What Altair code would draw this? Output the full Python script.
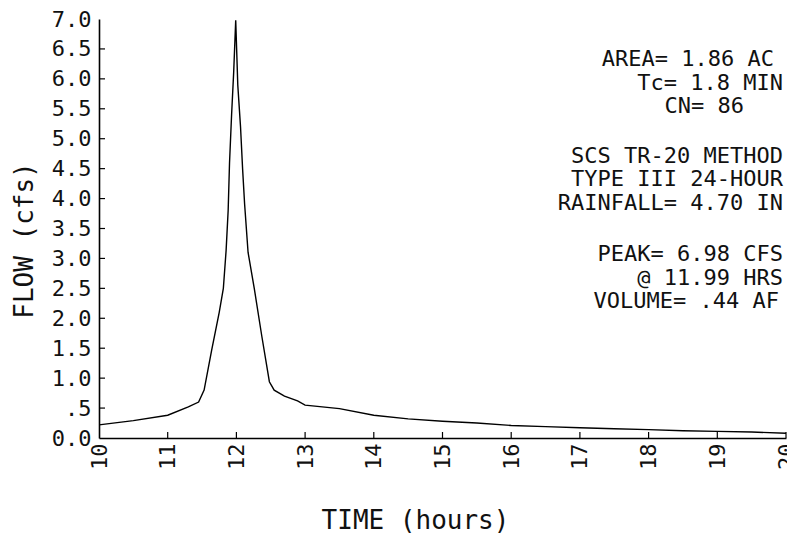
import altair as alt
import pandas as pd

time_hr = [10.0, 10.5, 11.0, 11.3, 11.45, 11.53, 11.64, 11.75, 11.81, 11.85,
           11.88, 11.90, 11.93, 11.96, 11.99, 12.02, 12.06, 12.09, 12.12, 12.17,
           12.26, 12.37, 12.48, 12.55, 12.7, 12.89, 13.0, 13.5, 14.0, 14.5,
           15.0, 15.5, 16.0, 16.5, 17.0, 17.5, 18.0, 18.5, 19.0, 19.5, 20.0]
flow_cfs = [0.22, 0.29, 0.38, 0.52, 0.60, 0.80, 1.47, 2.10, 2.50, 3.13,
            3.80, 4.60, 5.40, 6.10, 6.98, 5.90, 5.20, 4.50, 3.90, 3.10,
            2.50, 1.70, 0.94, 0.80, 0.70, 0.62, 0.55, 0.49, 0.38, 0.32,
            0.28, 0.25, 0.21, 0.19, 0.17, 0.155, 0.14, 0.12, 0.11, 0.10, 0.08]

y_tick_values = [0.0, 0.5, 1.0, 1.5, 2.0, 2.5, 3.0, 3.5, 4.0, 4.5, 5.0, 5.5, 6.0, 6.5, 7.0]
y_tick_labels = ["0.0", ".5", "1.0", "1.5", "2.0", "2.5", "3.0", "3.5", "4.0",
                 "4.5", "5.0", "5.5", "6.0", "6.5", "7.0"]
x_tick_values = [10, 11, 12, 13, 14, 15, 16, 17, 18, 19, 20]

annotation_lines = ["AREA= 1.86 AC", "Tc= 1.8 MIN", "CN= 86",
                    "SCS TR-20 METHOD", "TYPE III 24-HOUR", "RAINFALL= 4.70 IN",
                    "PEAK= 6.98 CFS", "@ 11.99 HRS", "VOLUME= .44 AF"]

x_title = "TIME (hours)"
y_title = "FLOW (cfs)"

# ---- layout (pixels, relative to plot area) ----
W, H = 687, 419
FONT = "DejaVu Sans Mono"
INK = "#111111"
ann_right = [675, 684, 645, 684, 684, 684, 684, 684, 680]
ann_cy = [40, 63.5, 87, 137, 160, 184, 235, 258.5, 281.5]

df = pd.DataFrame({"t": time_hr, "q": flow_cfs})
xs = alt.Scale(domain=[10, 20], nice=False, zero=False)
ys = alt.Scale(domain=[0, 7], nice=False, zero=False)

label_expr = "{}[indexof({}, datum.value)]".format(
    "[" + ",".join("'%s'" % s for s in y_tick_labels) + "]",
    "[" + ",".join(repr(v) for v in y_tick_values) + "]")

x_axis = alt.Axis(
    values=x_tick_values, ticks=False, grid=False, labelAngle=270,
    labelPadding=5, labelFont=FONT, labelFontSize=22, labelColor=INK,
    domainColor="black", domainWidth=1.6, labelFlush=False,
    labelOverlap=False,
    title=x_title, titleFont=FONT, titleFontSize=26, titleFontWeight="normal",
    titleColor=INK, titleX=316, titleY=82, titleAlign="center",
    titleBaseline="middle")
y_axis = alt.Axis(
    values=y_tick_values, ticks=False, grid=False, labelExpr=label_expr,
    labelPadding=8, labelFont=FONT, labelFontSize=22, labelColor=INK,
    domainColor="black", domainWidth=1.6, labelFlush=False,
    labelOverlap=False,
    title=y_title, titleFont=FONT, titleFontSize=26, titleFontWeight="normal",
    titleColor=INK, titleX=-75, titleY=221, titleAngle=270,
    titleAlign="center", titleBaseline="middle")

line = alt.Chart(df).mark_line(color="black", strokeWidth=1.4).encode(
    x=alt.X("t:Q", scale=xs, axis=x_axis, title=x_title),
    y=alt.Y("q:Q", scale=ys, axis=y_axis, title=y_title),
)

ytick_df = pd.DataFrame({"q": y_tick_values[1:-1]})
yticks = alt.Chart(ytick_df).mark_rule(color="black", strokeWidth=1.2).encode(
    y=alt.Y("q:Q", scale=ys, axis=y_axis, title=y_title),
    x=alt.value(0), x2=alt.value(6))

xtick_df = pd.DataFrame({"t": x_tick_values[1:]})
xticks = alt.Chart(xtick_df).mark_rule(color="black", strokeWidth=1.2).encode(
    x=alt.X("t:Q", scale=xs, axis=x_axis, title=x_title),
    y=alt.value(H), y2=alt.value(H - 6))

layers = [line, yticks, xticks]
for txt, rx, cy in zip(annotation_lines, ann_right, ann_cy):
    layers.append(
        alt.Chart(pd.DataFrame({"s": [txt]})).mark_text(
            font=FONT, fontSize=22, color=INK, align="right", baseline="middle"
        ).encode(text="s:N", x=alt.value(rx), y=alt.value(cy))
    )

chart = alt.layer(*layers).properties(
    width=W, height=H,
    autosize=alt.AutoSizeParams(type="none"),
    padding={"left": 91, "top": 11, "right": 1, "bottom": 96},
).configure(background="white").configure_view(stroke=None)

chart.save("out.html", embed_options={"renderer": "svg", "actions": False})
